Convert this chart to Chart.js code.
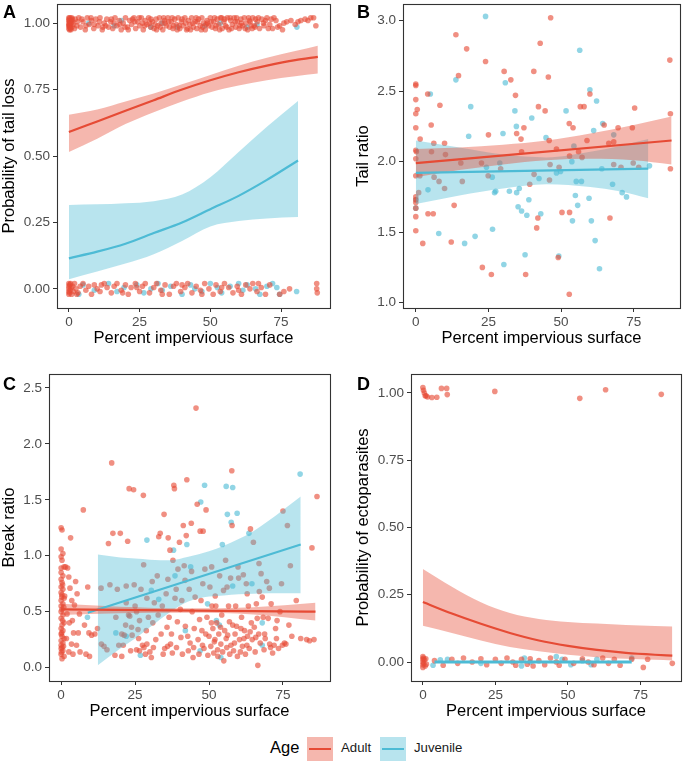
<!DOCTYPE html>
<html>
<head>
<meta charset="utf-8">
<script src="https://cdn.jsdelivr.net/npm/chart.js@4.4.1/dist/chart.umd.min.js"></script>
<style>
  body { margin: 0; background: #fff; width: 685px; height: 763px; position: relative; overflow: hidden;
         font-family: "Liberation Sans", Arial, sans-serif; }
  canvas { position: absolute; }
  .key { position: absolute; top: 737px; width: 26px; height: 24px; }
  .key span { position: absolute; left: 2px; right: 2px; top: 11px; height: 2.2px; }
  .lbl { position: absolute; top: 740px; font-size: 13.2px; color: #1a1a1a; }
</style>
</head>
<body>
<canvas id="cA" width="340" height="352" style="left:0;top:0;width:340px;height:352px"></canvas>
<canvas id="cB" width="345" height="352" style="left:340px;top:0;width:345px;height:352px"></canvas>
<canvas id="cC" width="340" height="366" style="left:0;top:360px;width:340px;height:366px"></canvas>
<canvas id="cD" width="345" height="366" style="left:340px;top:360px;width:345px;height:366px"></canvas>

<div class="lbl" style="left:270px;top:738px;font-size:16.5px;color:#000">Age</div>
<div class="key" style="left:307px;background:#F5B7AE"><span style="background:#E64B35"></span></div>
<div class="lbl" style="left:341px">Adult</div>
<div class="key" style="left:380px;background:#B8E4EE"><span style="background:#4DBBD5"></span></div>
<div class="lbl" style="left:414px">Juvenile</div>

<script>
// ---------- data ----------
const xTicks = [0, 25, 50, 75];
const probTicks = [0, 0.25, 0.5, 0.75, 1];
const tailRatioTicks = [1, 1.5, 2, 2.5, 3];
const breakTicks = [0, 0.5, 1, 1.5, 2, 2.5];

// A: tail loss (0/1, jittered)
const aAdult = [
  [0,1.02],[0,1.01],[0,1.0],[0,0.99],[0,0.98],[0.1,1.015],[0.2,0.995],[0.3,1.005],[0.3,0.985],[0.4,1.02],
  [0.5,0.99],[0.6,1.01],[0.7,0.975],[0.8,1.0],[1.0,1.02],[1.1,0.985],[1.3,1.005],[1.5,0.995],[0.2,0.975],[0.9,1.012],
  [2.0,0.98],[2.2,1.015],[2.8,0.99],[3.5,1.02],[4.1,0.985],[4.6,1.015],[5.0,1.005],[5.8,0.975],[6.5,1.02],[7.2,0.995],
  [8.0,1.01],[8.8,0.98],[9.0,0.995],[9.5,1.015],[10.3,0.99],[11.0,1.02],[11.8,0.975],[12.5,1.0],[13.0,0.99],[13.4,1.015],
  [14.0,0.985],[14.8,1.005],[15.5,0.98],[16.0,1.0],[16.3,1.02],[17.0,0.99],[17.8,1.01],[18.5,0.975],[19.2,1.0],[19.8,0.985],
  [20.0,1.02],[20.7,0.985],[21.5,1.01],[22.2,0.995],[22.5,1.015],[23.0,1.02],[23.6,0.98],[24.3,1.005],[25.0,0.99],[25.6,1.02],
  [26.0,1.0],[26.3,0.975],[27.0,1.01],[27.6,0.995],[28.2,1.02],[28.9,0.985],[29.0,1.015],[29.5,1.005],[30.1,0.98],[30.8,1.015],
  [31.0,0.975],[31.4,0.99],[32.0,1.02],[32.6,1.0],[33.2,0.975],[33.8,1.01],[34.0,1.0],[34.4,0.99],[35.0,1.02],[35.6,0.985],
  [36.2,1.005],[36.5,1.02],[36.8,0.98],[37.4,1.015],[38.0,0.995],[38.6,1.02],[39.0,0.99],[39.2,0.98],[39.8,1.005],[40.4,0.99],
  [41.0,1.02],[41.3,1.0],[41.6,0.975],[42.2,1.01],[42.8,0.995],[43.0,0.975],[43.4,1.02],[44.0,0.985],[44.6,1.005],[45.2,0.98],
  [45.5,1.005],[45.8,1.015],[46.4,0.99],[47.0,1.02],[47.3,0.985],[47.6,1.0],[48.2,0.975],[48.8,1.01],[49.0,1.0],[49.4,0.99],
  [50.0,1.02],[50.6,0.985],[51.2,1.005],[51.5,1.02],[51.8,0.98],[52.4,1.015],[53.0,0.995],[53.3,0.975],[53.6,1.02],[54.2,0.98],
  [54.8,1.005],[55.0,1.015],[55.4,0.99],[56.0,1.02],[56.6,0.975],[57.2,1.01],[57.5,0.98],[57.8,0.995],[58.4,1.02],[59.0,0.985],
  [59.3,1.02],[59.6,1.005],[60.2,0.98],[60.8,1.015],[61.0,1.0],[61.4,0.99],[62.0,1.02],[62.6,1.0],[63.2,0.975],[63.5,1.02],
  [63.8,1.01],[64.4,0.99],[64.8,0.98],[65.0,1.02],[65.8,0.985],[66.0,1.015],[66.6,1.005],[67.4,0.98],[68.2,1.015],[68.8,1.0],
  [69.0,0.99],[70.0,1.02],[70.5,0.98],[71.0,0.995],[72.0,0.98],[72.5,1.02],[73.2,1.01],[74.5,0.99],[75.5,0.975],[77.0,1.005],
  [78.5,1.01],[80.0,0.995],[82.0,1.01],[83.5,1.015],[85.5,1.02],[86.5,1.02],[87.3,0.99],
  [0.1,0.99],[0.4,1.0],[0.6,0.98],[1.2,1.015],[3.0,1.005],[6.0,0.99],[7.8,1.02],[10.8,1.005],[12.0,0.985],[15.0,1.015],
  [18.0,0.995],[21.0,0.975],[23.3,1.005],[24.8,1.02],[26.8,0.99],[28.5,1.0],[30.5,0.995],[32.3,0.985],[33.5,1.02],[35.3,1.005],
  [37.0,0.99],[38.3,0.975],[40.0,1.015],[42.0,0.98],[43.8,1.0],[45.0,1.02],[46.8,0.975],[48.5,0.995],[50.3,1.005],[52.0,0.99],
  [54.0,1.02],[55.8,0.985],[57.0,1.02],[58.8,1.005],[60.5,0.99],[62.3,0.98],[64.1,1.005],[65.5,0.99],[67.0,1.02],[69.5,1.01],
  [71.5,1.015],[73.8,0.985],[76.0,1.0],[81.0,1.005],[84.5,1.01],
  [0,0.02],[0,0.01],[0,0.0],[0,-0.01],[0,-0.02],[0.3,0.015],[0.5,-0.005],[0.8,0.005],[1.0,-0.02],[1.3,0.01],
  [1.6,-0.01],[2,0.02],[2.5,0.0],[3.2,-0.015],[4,0.01],[5,0.02],[6,-0.005],[7,0.01],[8,-0.02],[9,0.015],
  [10,0.0],[11,-0.01],[12.5,0.02],[13.5,0.005],[15,-0.015],[16,0.01],[17,0.02],[18.5,-0.005],[20,0.015],[21,-0.02],
  [22,0.005],[23.5,0.02],[25,-0.01],[26,0.01],[27,0.02],[28.5,-0.015],[30,0.005],[31,0.02],[32.5,-0.005],[34,0.015],
  [35.5,-0.02],[37,0.01],[38,0.02],[39.5,-0.01],[41,0.005],[42,0.02],[43.5,-0.015],[45,0.01],[46.5,-0.005],[48,0.02],
  [49.5,0.0],[51,-0.02],[52,0.015],[53.5,-0.01],[55,0.02],[56.5,0.005],[58,-0.015],[59.5,0.01],[61,-0.02],[62.5,0.015],
  [64,0.0],[65,0.02],[66.5,-0.01],[68,0.005],[69.5,-0.02],[71,0.015],[74.5,-0.02],[76,-0.01],[78,0.0],[87.6,0.02],
  [87.6,0.0],[87.8,-0.015],[0.2,-0.015],[0.6,0.02],[2.8,-0.02],[11.5,0.015],[19,-0.015],[24,0.005],[33,-0.02],[40,0.015],
  [47,-0.02],[54,0.005],[60,-0.005],[67,0.02]
];
const aJuv = [
  [7,1.0],[16,0.99],[18.5,1.01],[29,0.985],[33,1.0],[38.4,0.985],[48,0.99],[53.5,1.0],[63,0.985],[66.5,0.995],[80.6,0.985],
  [3.5,-0.02],[5,0.015],[9,-0.005],[14,0.02],[17,-0.01],[19.5,0.005],[24,0.015],[26.5,-0.015],[29,0.0],[31.5,0.02],
  [33,-0.005],[36,0.01],[40,-0.02],[43,0.015],[44.5,0.0],[47,-0.01],[50,0.02],[52.5,0.005],[54,-0.015],[57,0.01],
  [60,0.02],[61.5,-0.005],[63,0.015],[66,0.0],[67.5,-0.02],[70,0.01],[72,0.02],[73.5,0.005],[74.5,-0.02],[80.5,-0.01]
];
const aAdultFitX = [0, 10, 20, 30, 40, 50, 60, 70, 80, 88];
const aAdultFit  = [0.59, 0.63, 0.67, 0.71, 0.75, 0.785, 0.815, 0.84, 0.861, 0.873];
const aAdultLo   = [0.515, 0.565, 0.62, 0.665, 0.705, 0.74, 0.765, 0.785, 0.80, 0.81];
const aAdultHi   = [0.655, 0.675, 0.705, 0.735, 0.77, 0.805, 0.84, 0.87, 0.895, 0.915];
const aJuvFitX = [0, 10, 20, 30, 40, 50, 60, 70, 81];
const aJuvFit  = [0.115, 0.14, 0.17, 0.21, 0.25, 0.30, 0.35, 0.41, 0.483];
const aJuvLo   = [0.036, 0.065, 0.095, 0.13, 0.18, 0.235, 0.255, 0.265, 0.27];
const aJuvHi   = [0.316, 0.318, 0.322, 0.33, 0.355, 0.42, 0.515, 0.61, 0.707];

// B: tail ratio
const bAdult = [
  [0,2.55],[0,2.54],[0,2.44],[0.5,2.37],[0,2.34],[0,2.24],[0,2.08],[0,2.02],[0.2,2.07],[0,1.90],
  [0,1.75],[0,1.73],[0,1.71],[0,1.67],[0,1.61],[0,1.51],[1,1.78],[1.4,1.90],[1.5,2.16],[2.4,1.42],
  [4.1,2.48],[4.2,1.63],[5.3,2.26],[5.4,2.07],[6.2,2.13],[6.3,1.89],[6,1.63],[8,1.86],[8.3,2.40],[9.9,2.13],
  [10.2,2.05],[9.9,1.81],[12.2,1.43],[13.2,1.69],[13.8,2.90],[14.7,2.61],[15.5,1.99],[16,1.86],[17.5,2.80],[22.6,1.99],
  [22.9,1.25],[24,2.71],[25,2.19],[24.9,1.90],[26,1.20],[29.2,1.95],[30.4,2.64],[32.7,2.58],[34.3,2.47],[34.7,2.20],
  [36.2,2.16],[36.4,2.07],[37.2,2.24],[37.8,1.20],[39.2,1.84],[40.6,2.64],[40.7,1.91],[41.6,1.53],[42,1.60],[42.2,2.39],
  [42.8,2.84],[44.5,2.36],[45.6,2.60],[45.9,2.15],[46,1.87],[46.2,1.98],[46.4,3.02],[49,1.32],[48.4,2.09],[49.3,1.96],
  [50.3,1.64],[52.8,2.27],[52.9,1.64],[52.8,1.06],[52.9,2.04],[54.1,2.24],[56,2.07],[56.6,2.39],[57.2,2.03],[57.9,2.39],
  [58.9,2.15],[59.9,2.48],[64.8,2.26],[66.4,2.13],[66.8,1.60],[68.1,2.14],[68.1,1.98],[69.6,2.24],[70.6,1.96],[74.5,2.24],
  [75.3,2.38],[74.8,1.99],[76.7,1.96],[87.4,2.72],[87.6,2.34],[87.6,1.95]
];
const bJuv = [
  [0,1.67],[0,1.73],[5,2.48],[4.2,1.80],[7.9,1.49],[13.8,2.58],[16.8,1.42],[18.2,2.18],[18.9,2.39],[20.4,1.47],
  [24,3.03],[24.3,1.96],[26.3,1.89],[26.4,1.52],[27.1,1.78],[27.5,1.79],[28.9,1.99],[30,2.20],[30.3,1.27],[30.8,2.56],
  [32.2,1.79],[34.1,2.36],[34.6,2.25],[34.7,1.78],[35.2,1.68],[35.6,1.81],[36.4,1.65],[37.6,1.34],[38.2,1.62],[38.9,1.73],
  [39.9,2.31],[42.4,1.88],[43,1.63],[44.8,2.17],[48.4,1.92],[49.2,1.33],[49.8,1.93],[51.7,2.36],[53.7,2.00],[53.9,1.58],
  [54.4,2.11],[54.9,1.76],[55.2,1.86],[55.7,1.69],[56.4,2.79],[57,1.86],[59.6,1.74],[59.9,2.51],[60.4,1.58],[61.2,2.22],
  [61.7,1.44],[62.2,2.43],[63.2,1.24],[64.3,2.27],[64,1.95],[67.7,1.84],[68.1,2.19],[71,1.78],[72.5,1.75],[80.4,1.97]
];
const bAdultFitX = [0, 88];
const bAdultFit  = [1.99, 2.15];
const bAdultBandX = [0, 15, 30, 45, 60, 75, 88];
const bAdultLo = [1.89, 1.94, 1.98, 2.01, 2.02, 2.01, 1.98];
const bAdultHi = [2.09, 2.10, 2.12, 2.15, 2.20, 2.26, 2.32];
const bJuvFitX = [0, 80];
const bJuvFit  = [1.92, 1.95];
const bJuvBandX = [0, 15, 30, 45, 60, 70, 80];
const bJuvLo = [1.70, 1.76, 1.81, 1.84, 1.82, 1.79, 1.74];
const bJuvHi = [2.15, 2.10, 2.05, 2.03, 2.07, 2.11, 2.16];

// C: break ratio
const cAdult = [
  [0,1.25],[0.3,1.23],[0,1.06],[0.6,1.02],[0,0.99],[0.3,0.96],[1,0.90],[0,0.89],[0.6,0.82],[0,0.79],
  [0.3,0.76],[0,0.72],[0.6,0.70],[0,0.67],[0.3,0.65],[1,0.62],[0,0.60],[0.6,0.57],[0,0.55],[0.3,0.52],
  [0,0.50],[0.6,0.47],[0,0.44],[1,0.40],[0.3,0.38],[0,0.35],[0.6,0.33],[0,0.30],[0.3,0.28],[1,0.26],
  [0,0.24],[0.6,0.22],[0,0.20],[0.3,0.18],[0,0.17],[0.6,0.15],[0,0.12],[1,0.10],[0.3,0.08],[0,0.85],
  [0.2,0.63],[0.5,0.42],[0.2,0.31],[0.8,0.19],[0.1,0.14],[0.5,0.74],[0.9,0.54],
  [1.5,0.90],[2.2,0.89],[2.6,0.81],[3.2,1.16],[3.0,0.71],[3.6,0.60],[2.0,0.48],[2.8,0.40],[4.2,0.31],[3.5,0.21],
  [2.6,0.14],[4.0,0.12],[4.9,0.77],[5.4,0.66],[4.5,0.56],[5.2,0.20],[6.2,0.48],[6.4,0.14],[7.5,1.41],[7.9,0.38],
  [9.0,0.72],[9.4,0.31],[10.3,0.29],[9.6,0.10],[11.4,0.30],[12.3,0.35],[1.8,0.26],[3.8,0.42],[5.8,0.31],[8.4,0.12],
  [1.2,0.64],[13.5,0.71],[13.6,0.21],[14.5,0.19],[15.5,0.16],[16,1.11],[16.5,0.74],[17.1,1.83],[17.5,1.20],[18.2,0.11],
  [18.5,0.45],[19,0.70],[19.5,0.20],[20,1.20],[20.5,0.30],[20.5,0.10],[21,0.20],[21.3,0.29],[22,0.58],[22.5,1.13],
  [22,0.73],[22.8,0.47],[23.0,1.60],[23.2,0.46],[23.8,0.36],[24,0.29],[24.5,1.59],[24.7,0.74],[25,0.55],[25.5,0.16],
  [25.5,0.50],[26,0.34],[26.5,0.15],[26.5,0.42],[27,0.70],[27.5,0.20],[27.8,1.54],[28,0.18],[28.5,0.12],[29.0,0.21],
  [29,0.62],[29.5,0.45],[30,0.14],[30.5,0.09],[31,0.40],[31.5,0.58],[32,0.25],[32.5,0.82],[33,1.17],[33.5,1.20],
  [33.8,0.30],[34.2,0.55],[34.8,1.37],[35,0.17],[35.5,0.66],[36,0.19],[36.2,1.16],[36.5,0.45],[36.8,1.05],[37,0.21],
  [37.3,0.30],[37.8,0.96],[38.1,1.63],[38.3,1.60],[38.5,0.62],[39,0.18],[39.5,0.88],[40,1.12],[40.3,0.52],[40.5,0.27],
  [41,0.12],[41.3,1.27],[41.6,0.91],[42,0.37],[42.3,1.18],[42.5,1.68],[43,0.15],[43.3,0.70],[43.6,0.22],[44,1.29],
  [44.3,0.50],[44.6,0.09],[45,0.35],[45.6,2.32],[46,1.46],[46.3,0.25],[46.6,0.12],[47,1.22],[47.3,0.60],[47.6,0.33],
  [48,1.22],[48.3,0.17],[48.6,0.88],[49,1.41],[49.3,0.45],[49.6,0.11],[50,0.28],[50.3,0.72],[50.6,0.19],[51,0.55],
  [51.3,0.35],[51.6,0.13],[52,0.25],[52.3,0.55],[52.6,0.40],[53,0.10],[53.3,0.30],[53.6,0.82],[54,0.21],[54.3,0.47],
  [54.6,0.14],[55,0.06],[55.3,0.33],[55.6,0.96],[56,0.18],[56.3,0.29],[56.6,0.55],[57,0.12],[57.3,0.80],[57.7,1.76],
  [57.8,1.27],[58,0.38],[58.3,0.15],[58.6,0.22],[59,0.55],[59.3,0.37],[59.6,0.10],[60,0.80],[60.3,0.25],[60.6,0.14],
  [61,0.45],[61.3,0.19],[61.6,0.83],[62,0.33],[62.3,0.12],[62.6,0.75],[63,0.28],[63.3,0.55],[63.6,0.17],[64,1.24],
  [64.3,0.40],[64.6,0.25],[65,1.12],[65.3,0.36],[65.6,0.14],[66,0.57],[66.5,0.02],[66.8,0.30],[67,0.68],[67.3,0.22],
  [67.6,0.84],[68,0.63],[68.3,0.45],[68.6,0.16],[69,0.26],[69.5,0.77],[70,0.44],[70.5,0.21],[71,0.57],[71.5,0.13],
  [72,0.20],[72.5,0.35],[73,0.42],[73.5,0.17],[74,0.50],[74.5,0.75],[75,1.40],[75.5,0.22],[76,0.21],[76.5,1.27],
  [77,0.38],[77.5,0.91],[78,0.28],[79.5,0.60],[81,0.26],[83,0.25],[84,0.24],[84.8,1.07],[85.5,0.25],[86.5,1.53],
  [21.8,0.38],[23.5,0.15],[26.2,0.26],[28.8,0.33],[31.2,0.18],[32.8,0.47],[34.5,0.12],[35.8,0.36],[37.6,0.13],[39.3,0.41],
  [40.8,0.60],[42.8,0.28],[44.8,0.18],[45.3,0.63],[46.8,0.43],[47.8,0.20],[48.9,0.30],[50.8,0.40],[51.8,0.23],[52.9,0.16],
  [53.9,0.36],[55.8,0.26],[56.9,0.41],[57.4,0.20],[58.8,0.30],[60.8,0.35],[61.8,0.26],[62.8,0.20],[63.9,0.32],[65.8,0.27],
  [66.3,0.44],[68.8,0.30],[70.8,0.18],[72.8,0.26],[74.8,0.20],[38.9,0.70],[41.9,0.78],[44.1,0.86],[50.9,0.90],[54.9,0.69],
  [59.8,0.90],[62.9,0.66],[66.9,0.93],[70.4,0.71],[30.8,0.77],[27.9,0.92],[36.1,0.79],[47.9,0.75],[52.1,0.64],[56.1,0.72]
];
const cJuv = [
  [8.9,0.45],[18.5,0.31],[22,0.28],[26.8,0.11],[29,1.14],[30.5,0.69],[33,0.61],[38,1.05],[38.5,0.82],[42,0.33],
  [42.5,1.10],[43.8,0.90],[47,0.15],[47.2,1.48],[48.5,1.63],[49.5,0.57],[52.5,0.42],[53.5,0.38],[54,0.09],[54.5,1.10],
  [55.8,1.62],[56.2,1.37],[57.5,1.30],[58,1.61],[58,0.73],[59.5,1.38],[63.5,1.20],[64.5,0.75],[68,0.40],[68,0.20],
  [80.8,1.73]
];
const cAdultFitX = [0, 86];
const cAdultFit  = [0.52, 0.50];
const cAdultBandX = [0, 20, 43, 65, 86];
const cAdultLo = [0.47, 0.485, 0.49, 0.475, 0.42];
const cAdultHi = [0.57, 0.545, 0.53, 0.54, 0.58];
const cJuvFitX = [9, 81];
const cJuvFit  = [0.49, 1.10];
const cJuvBandX = [12.4, 20, 25, 30, 37, 43, 50, 55, 60, 65, 70, 75, 81];
const cJuvLo = [0.02, 0.17, 0.26, 0.36, 0.50, 0.59, 0.635, 0.645, 0.655, 0.66, 0.665, 0.665, 0.665];
const cJuvHi = [1.01, 0.985, 0.975, 0.965, 0.96, 0.99, 1.04, 1.09, 1.15, 1.22, 1.31, 1.41, 1.53];

// D: ectoparasites (0/1, jittered)
const dAdult = [
  [0,1.02],[0.2,1.01],[0.5,1.0],[0.8,0.99],[1.1,0.99],[1.6,0.985],[3.1,0.983],[4.8,0.984],[6.4,1.017],[8.2,1.017],
  [8.4,0.994],[24.8,1.006],[54.1,0.98],[63,1.012],[82.2,0.995],
  [0,0.02],[0,0.01],[0,0.0],[0,-0.01],[0,-0.02],[0.2,0.015],[0.3,-0.005],[0.5,0.008],[0.8,-0.015],[1,0.012],
  [1.2,-0.008],[4,0.005],[7,-0.012],[10,0.01],[12,-0.005],[14,0.015],[17,0.0],[20,0.012],[22,-0.01],[25,0.01],
  [27,-0.005],[29,0.015],[31,0.0],[32,-0.012],[34,0.01],[36,-0.008],[37,0.012],[38,-0.015],[40,0.005],[42,-0.01],
  [44,0.015],[46,0.0],[47,-0.012],[49,0.01],[52,-0.005],[55,0.012],[57,0.0],[59,-0.01],[62,0.015],[64,-0.005],
  [66,0.01],[68,-0.012],[72,0.01],[76,-0.02],[77.5,0.01],[86,-0.005]
];
const dJuv = [
  [3.5,-0.012],[6,0.008],[8.5,0.01],[20,-0.005],[34,-0.015],[35,0.015],[37,0.0],[46,0.02],[48,0.01],[51,-0.01],
  [55,0.005],[58,-0.01],[60,0.01],[72,0.015]
];
const dAdultFitX = [0, 10, 20, 30, 40, 50, 60, 70, 80, 86];
const dAdultFit  = [0.223, 0.18, 0.142, 0.108, 0.08, 0.06, 0.045, 0.034, 0.027, 0.024];
const dAdultLo   = [0.135, 0.108, 0.08, 0.056, 0.04, 0.027, 0.018, 0.012, 0.008, 0.006];
const dAdultHi   = [0.346, 0.28, 0.222, 0.182, 0.16, 0.149, 0.143, 0.138, 0.134, 0.132];
const dJuvFitX = [4, 72];
const dJuvFit  = [0, 0];

// ---------- drawing ----------
const RED = '#E64B35', BLUE = '#4DBBD5';
const RED_PT = 'rgba(230,75,53,0.62)', BLUE_PT = 'rgba(77,187,213,0.62)';
const RED_BAND = 'rgba(230,75,53,0.4)', BLUE_BAND = 'rgba(77,187,213,0.4)';
const FONT = '"Liberation Sans", Arial, sans-serif';

function xy(pairs) { return pairs.map(p => ({x: p[0], y: p[1]})); }
function curve(xs, ys) { return xs.map((x, i) => ({x: x, y: ys[i]})); }

const frame = {
  id: 'frame',
  afterDatasetsDraw(chart, args, o) {
    const a = chart.chartArea, ctx = chart.ctx;
    ctx.save();
    ctx.strokeStyle = '#333';
    ctx.lineWidth = 1.1;
    ctx.strokeRect(Math.round(a.left) + 0.5, Math.round(a.top) + 0.5,
                   Math.round(a.right - a.left), Math.round(a.bottom - a.top));
    ctx.fillStyle = '#000';
    ctx.font = 'bold 18px ' + FONT;
    ctx.textBaseline = 'top';
    ctx.fillText(o.tag, o.tagX, o.tagY);
    ctx.restore();
  }
};

function panel(id, p) {
  const ds = [];
  p.groups.forEach(g => {
    ds.push({ type: 'line', data: curve(g.fitX, g.fit), borderColor: g.color, borderWidth: g.lw || 2.2,
              pointRadius: 0, fill: false, cubicInterpolationMode: 'monotone', order: 0 });
  });
  p.groups.forEach(g => {
    if (!g.bandX) return;
    ds.push({ type: 'line', data: curve(g.bandX, g.hi), borderColor: 'rgba(0,0,0,0)', borderWidth: 0,
              pointRadius: 0, fill: '+1', backgroundColor: g.band, cubicInterpolationMode: 'monotone', order: 1 });
    ds.push({ type: 'line', data: curve(g.bandX, g.lo), borderColor: 'rgba(0,0,0,0)', borderWidth: 0,
              pointRadius: 0, fill: false, cubicInterpolationMode: 'monotone', order: 1 });
  });
  p.groups.forEach(g => {
    ds.push({ type: 'scatter', data: xy(g.pts), backgroundColor: g.pt, borderWidth: 0,
              pointRadius: 2.8, order: 2 });
  });

  const tickGrid = { display: true, drawOnChartArea: false, drawTicks: true, tickLength: 4, color: '#333', lineWidth: 1 };
  new Chart(document.getElementById(id), {
    type: 'scatter',
    data: { datasets: ds },
    options: {
      responsive: false,
      animation: false,
      devicePixelRatio: 1,
      events: [],
      layout: { padding: { left: 0, top: p.padTop, right: p.padRight, bottom: 0 } },
      plugins: { legend: { display: false }, tooltip: { enabled: false },
                 frame: { tag: p.tag, tagX: p.tagX, tagY: p.tagY } },
      scales: {
        x: {
          type: 'linear', min: p.xMin, max: p.xMax,
          afterBuildTicks: s => { s.ticks = xTicks.map(v => ({value: v})); },
          afterFit: s => { s.height = p.xH; s.paddingLeft = 0; s.paddingRight = 0; },
          grid: tickGrid,
          border: { display: false },
          ticks: { color: '#4d4d4d', font: { size: 13.5, family: FONT }, padding: 2, maxRotation: 0, autoSkip: false },
          title: { display: true, text: 'Percent impervious surface', color: '#000',
                   font: { size: 16.5, family: FONT }, padding: { top: 0, bottom: p.xTitlePad } }
        },
        y: {
          type: 'linear', min: p.yMin, max: p.yMax,
          afterBuildTicks: s => { s.ticks = p.yTicks.map(v => ({value: v})); },
          afterFit: s => { s.width = p.yW; s.paddingTop = 0; s.paddingBottom = 0; },
          grid: tickGrid,
          border: { display: false },
          ticks: { color: '#4d4d4d', font: { size: 13.5, family: FONT }, padding: 3, autoSkip: false,
                   callback: v => v.toFixed(p.dec) },
          title: { display: true, text: p.yTitle, color: '#000',
                   font: { size: 16.5, family: FONT }, padding: { top: p.yTitlePad, bottom: 0 } }
        }
      }
    },
    plugins: [frame]
  });
}

panel('cA', {
  tag: 'A', tagX: 3, tagY: 4,
  padTop: 3, padRight: 10, yW: 57, xH: 44, xTitlePad: 4, yTitlePad: 0,
  xMin: -4.2, xMax: 92.3, yMin: -0.072, yMax: 1.072, yTicks: probTicks, dec: 2,
  yTitle: 'Probability of tail loss',
  groups: [
    { pts: aAdult, pt: RED_PT, color: RED, band: RED_BAND, fitX: aAdultFitX, fit: aAdultFit, bandX: aAdultFitX, lo: aAdultLo, hi: aAdultHi },
    { pts: aJuv, pt: BLUE_PT, color: BLUE, band: BLUE_BAND, fitX: aJuvFitX, fit: aJuvFit, bandX: aJuvFitX, lo: aJuvLo, hi: aJuvHi }
  ]
});

panel('cB', {
  tag: 'B', tagX: 17, tagY: 4,
  padTop: 3, padRight: 5, yW: 63, xH: 44, xTitlePad: 4, yTitlePad: 14,
  xMin: -4.4, xMax: 90.9, yMin: 0.962, yMax: 3.118, yTicks: tailRatioTicks, dec: 1,
  yTitle: 'Tail ratio',
  groups: [
    { pts: bAdult, pt: RED_PT, color: RED, band: RED_BAND, fitX: bAdultFitX, fit: bAdultFit, bandX: bAdultBandX, lo: bAdultLo, hi: bAdultHi },
    { pts: bJuv, pt: BLUE_PT, color: BLUE, band: BLUE_BAND, fitX: bJuvFitX, fit: bJuvFit, bandX: bJuvBandX, lo: bJuvLo, hi: bJuvHi }
  ]
});

panel('cC', {
  tag: 'C', tagX: 3, tagY: 16,
  padTop: 14, padRight: 10, yW: 49, xH: 45, xTitlePad: 5, yTitlePad: 0,
  xMin: -4.1, xMax: 90.9, yMin: -0.12, yMax: 2.625, yTicks: breakTicks, dec: 1,
  yTitle: 'Break ratio',
  groups: [
    { pts: cAdult, pt: RED_PT, color: RED, band: RED_BAND, fitX: cAdultFitX, fit: cAdultFit, bandX: cAdultBandX, lo: cAdultLo, hi: cAdultHi },
    { pts: cJuv, pt: BLUE_PT, color: BLUE, band: BLUE_BAND, fitX: cJuvFitX, fit: cJuvFit, bandX: cJuvBandX, lo: cJuvLo, hi: cJuvHi }
  ]
});

panel('cD', {
  tag: 'D', tagX: 17, tagY: 16,
  padTop: 14, padRight: 2, yW: 71, xH: 45, xTitlePad: 5, yTitlePad: 14,
  xMin: -4.1, xMax: 89.0, yMin: -0.0706, yMax: 1.0706, yTicks: probTicks, dec: 2,
  yTitle: 'Probability of ectoparasites',
  groups: [
    { pts: dAdult, pt: RED_PT, color: RED, band: RED_BAND, fitX: dAdultFitX, fit: dAdultFit, bandX: dAdultFitX, lo: dAdultLo, hi: dAdultHi },
    { pts: dJuv, pt: BLUE_PT, color: BLUE, lw: 3, fitX: dJuvFitX, fit: dJuvFit }
  ]
});
</script>
</body>
</html>
